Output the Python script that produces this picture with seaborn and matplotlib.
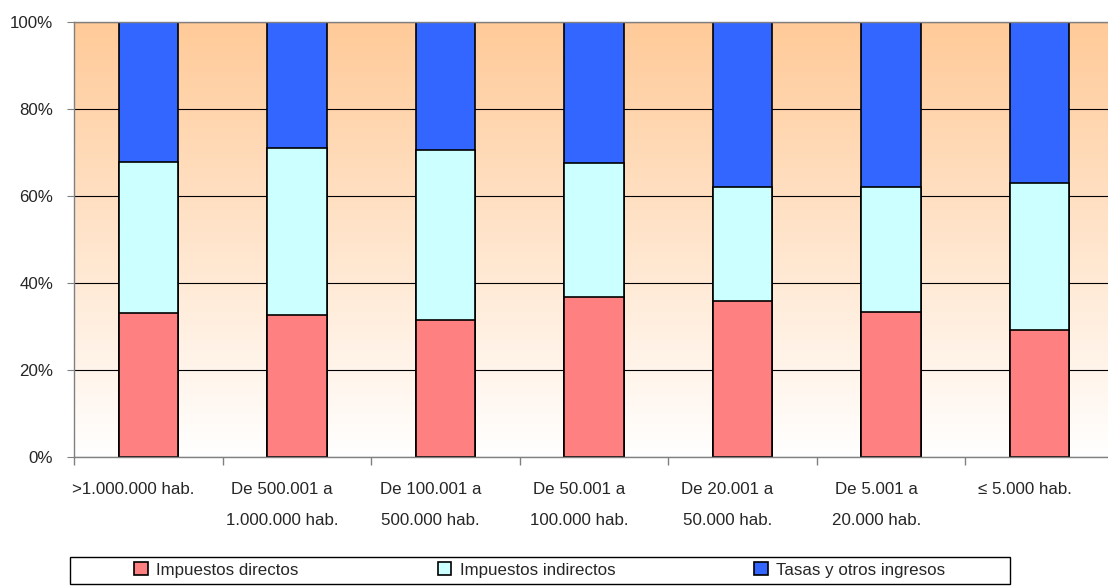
import numpy as np
import pandas as pd
import matplotlib.pyplot as plt
import matplotlib.transforms as mtransforms
from matplotlib.patches import Patch, Rectangle
from matplotlib.ticker import PercentFormatter, FixedLocator
import seaborn as sns

CATEGORIES = [
    ">1.000.000 hab.",
    "De 500.001 a\n1.000.000 hab.",
    "De 100.001 a\n500.000 hab.",
    "De 50.001 a\n100.000 hab.",
    "De 20.001 a\n50.000 hab.",
    "De 5.001 a\n20.000 hab.",
    "\u2264 5.000 hab.",
]
SERIES = ["Impuestos directos", "Impuestos indirectos", "Tasas y otros ingresos"]
DIRECTOS = [33.0, 32.6, 31.5, 36.7, 35.9, 33.4, 29.3]
INDIRECTOS = [34.8, 38.5, 39.1, 31.0, 26.2, 28.7, 33.7]
TASAS = [32.2, 28.9, 29.4, 32.3, 37.9, 37.9, 37.0]
COLORS = ["#FF8080", "#CCFFFF", "#3366FF"]

sns.set_style("ticks")
plt.rcParams["font.family"] = ["Liberation Sans", "DejaVu Sans"]
plt.rcParams["font.size"] = 12.2

df = pd.DataFrame({
    "cat": CATEGORIES,
    SERIES[0]: DIRECTOS,
    SERIES[1]: INDIRECTOS,
    SERIES[2]: TASAS,
})
# cumulative tops, drawn back to front
df["top_red"] = df[SERIES[0]]
df["top_cyan"] = df[SERIES[0]] + df[SERIES[1]]
df["top_blue"] = df["top_cyan"] + df[SERIES[2]]

fig = plt.figure(figsize=(11.08, 5.86), dpi=100)
ax = fig.add_axes([74 / 1108, 1 - 457 / 586, 1040 / 1108, 435 / 586])

# orange-to-white background gradient
grad = np.linspace(0, 1, 256).reshape(-1, 1)
top_rgb = np.array([255, 202, 152]) / 255
img = np.ones((256, 1, 3)) * (1 - grad[..., None]) + top_rgb * grad[..., None]
ax.imshow(img, extent=[0, 1, 0, 1], transform=ax.transAxes, origin="lower",
          aspect="auto", zorder=0)

for col, color in zip(["top_blue", "top_cyan", "top_red"], COLORS[::-1]):
    sns.barplot(data=df, x="cat", y=col, color=color, width=0.4,
                edgecolor="black", linewidth=1.2, saturation=1, ax=ax, zorder=2)

ax.set_xlim(-0.5, 6.5)
ax.set_ylim(0, 100)
ax.yaxis.set_major_formatter(PercentFormatter(decimals=0))
ax.set_yticks([0, 20, 40, 60, 80, 100])
ax.set_axisbelow(True)
ax.yaxis.grid(True, color="black", linewidth=0.8)
ax.set_xlabel("")
ax.set_ylabel("")

ax.xaxis.set_minor_locator(FixedLocator(np.arange(-0.5, 7, 1)))
ax.tick_params(axis="x", which="major", length=0, pad=18)
ax.tick_params(axis="x", which="minor", length=6, color="#808080", width=1)
ax.tick_params(axis="y", length=5, color="#808080", pad=10)
for lbl in ax.get_xticklabels():
    lbl.set_linespacing(2.35)
    lbl.set_transform(lbl.get_transform() + mtransforms.ScaledTranslation(-15 / 100, 0, fig.dpi_scale_trans))

for side in ["left", "bottom", "top"]:
    ax.spines[side].set_color("#808080")
    ax.spines[side].set_linewidth(1)
ax.spines["right"].set_visible(False)

handles = [Patch(facecolor=c, edgecolor="black", linewidth=1.2) for c in COLORS]
fig.legend(handles, SERIES, loc="center", bbox_to_anchor=(540 / 1108, 1 - 570 / 586),
           ncol=3, frameon=False, columnspacing=8.2, handlelength=0.8,
           handleheight=0.75, handletextpad=0.5)
fig.add_artist(Rectangle((70 / 1108, 1 - 584 / 586), 940 / 1108, 27 / 586,
                         transform=fig.transFigure, fill=False,
                         edgecolor="black", linewidth=1))

fig.savefig("out.png", dpi=100)
